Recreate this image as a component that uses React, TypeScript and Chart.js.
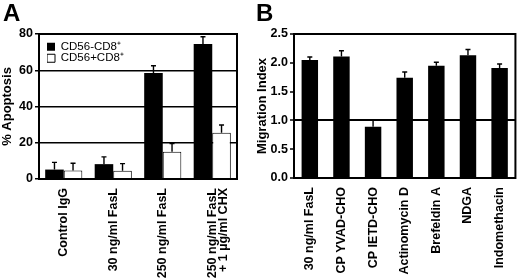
import React, { useEffect, useRef } from 'react';
import { Chart, registerables } from 'chart.js';

Chart.register(...registerables);

// ---- Panel A data ----
const categoriesA: (string | string[])[] = [
  'Control IgG',
  '30 ng/ml FasL',
  '250 ng/ml FasL',
  ['250 ng/ml FasL', '+ 1 µg/ml CHX'],
];
const seriesNegLabel = 'CD56-CD8⁺';
const seriesPosLabel = 'CD56+CD8⁺';
const apoptosisNeg = [5.2, 8.2, 58.5, 74.5];
const apoptosisNegErr = [4, 4, 4, 4];
const apoptosisPos = [4.7, 4.5, 15, 25.5];
const apoptosisPosErr = [4, 4, 4.5, 4.3];
const yTicksA = ['0', '20', '40', '60', '80'];

// ---- Panel B data ----
const categoriesB = [
  '30 ng/ml FasL',
  'CP YVAD-CHO',
  'CP IETD-CHO',
  'Actinomycin D',
  'Brefeldin A',
  'NDGA',
  'Indomethacin',
];
const migrationIndex = [2.05, 2.11, 0.89, 1.74, 1.95, 2.13, 1.91];
const migrationErr = [0.05, 0.1, 0.12, 0.1, 0.06, 0.1, 0.07];
const yTicksB = ['0.0', '0.5', '1.0', '1.5', '2.0', '2.5'];

const FAMILY = '"Liberation Sans", Arial, Helvetica, sans-serif';

const errorBarPlugin = {
  id: 'errorBars',
  afterDatasetsDraw(chart: any) {
    const { ctx } = chart;
    const yScale = chart.scales.y;
    chart.data.datasets.forEach((ds: any, i: number) => {
      const errs: number[] | undefined = ds.errors;
      if (!errs) return;
      const meta = chart.getDatasetMeta(i);
      meta.data.forEach((el: any, j: number) => {
        const v = ds.data[j] as number;
        const top = yScale.getPixelForValue(v + errs[j]);
        ctx.save();
        ctx.strokeStyle = '#000';
        ctx.lineWidth = 1.4;
        ctx.beginPath();
        ctx.moveTo(el.x, el.y);
        ctx.lineTo(el.x, top);
        ctx.moveTo(el.x - 2.5, top);
        ctx.lineTo(el.x + 2.5, top);
        ctx.stroke();
        ctx.restore();
      });
    });
  },
};

const framePlugin = {
  id: 'frame',
  afterDraw(chart: any) {
    const { ctx, chartArea: a } = chart;
    ctx.save();
    ctx.strokeStyle = '#000';
    ctx.lineWidth = 2;
    ctx.strokeRect(a.left, a.top, a.right - a.left, a.bottom - a.top);
    ctx.restore();
  },
};

const legendShiftPlugin = {
  id: 'legendShift',
  afterLayout(chart: any) {
    const lg = chart.legend;
    const a = chart.chartArea;
    if (lg && lg.options && lg.options.display !== false) {
      const w = lg.width;
      const h = lg.height;
      lg.left = a.left + 8;
      lg.top = a.top + 7;
      lg.right = lg.left + w;
      lg.bottom = lg.top + h;
    }
  },
};

function makeConfigA(): any {
  return {
    type: 'bar',
    data: {
      labels: categoriesA,
      datasets: [
        {
          label: seriesNegLabel,
          data: apoptosisNeg,
          errors: apoptosisNegErr,
          backgroundColor: '#000',
          borderColor: '#000',
          borderWidth: 0,
        },
        {
          label: seriesPosLabel,
          data: apoptosisPos,
          errors: apoptosisPosErr,
          backgroundColor: '#fff',
          borderColor: '#000',
          borderWidth: 1,
        },
      ],
    },
    options: {
      animation: false,
      responsive: false,
      devicePixelRatio: 1,
      layout: { padding: { top: 34, right: 13, left: 0, bottom: 0 } },
      datasets: { bar: { categoryPercentage: 0.75, barPercentage: 1 } },
      plugins: {
        legend: {
          position: 'chartArea',
          align: 'start',
          labels: {
            boxWidth: 8,
            boxHeight: 8,
            padding: 0,
            color: '#000',
            font: { size: 11.5, family: FAMILY },
          },
        },
        tooltip: { enabled: false },
      },
      scales: {
        x: {
          grid: { display: false, drawTicks: false },
          border: { display: false },
          ticks: {
            autoSkip: false,
            maxRotation: 90,
            minRotation: 90,
            padding: 9,
            color: '#000',
            font: { size: 12.5, weight: 'bold', family: FAMILY, lineHeight: 0.9 },
          },
          afterFit: (s: any) => {
            s.height = 100;
          },
        },
        y: {
          min: 0,
          max: 80,
          ticks: {
            stepSize: 20,
            padding: 2,
            color: '#000',
            font: { size: 12.5, weight: 'bold', family: FAMILY },
            callback: (_v: any, i: number) => yTicksA[i],
          },
          grid: { color: '#000', lineWidth: 1.5, tickLength: 4, tickColor: '#000', tickWidth: 1.5 },
          border: { display: false },
          title: {
            display: true,
            text: '% Apoptosis',
            color: '#000',
            padding: 0,
            font: { size: 13, weight: 'bold', family: FAMILY },
          },
          afterFit: (s: any) => {
            s.width = 39;
          },
        },
      },
    },
    plugins: [errorBarPlugin, framePlugin, legendShiftPlugin],
  };
}

function makeConfigB(): any {
  return {
    type: 'bar',
    data: {
      labels: categoriesB,
      datasets: [
        {
          label: 'Migration Index',
          data: migrationIndex,
          errors: migrationErr,
          backgroundColor: '#000',
          borderColor: '#000',
          borderWidth: 0,
        },
      ],
    },
    options: {
      animation: false,
      responsive: false,
      devicePixelRatio: 1,
      layout: { padding: { top: 34, right: 2, left: 0, bottom: 0 } },
      datasets: { bar: { categoryPercentage: 1, barPercentage: 0.52 } },
      plugins: {
        legend: { display: false },
        tooltip: { enabled: false },
      },
      scales: {
        x: {
          grid: { display: false, drawTicks: false },
          border: { display: false },
          ticks: {
            autoSkip: false,
            maxRotation: 90,
            minRotation: 90,
            padding: 9,
            color: '#000',
            font: { size: 12.5, weight: 'bold', family: FAMILY, lineHeight: 0.9 },
          },
          afterFit: (s: any) => {
            s.height = 101;
          },
        },
        y: {
          min: 0,
          max: 2.5,
          ticks: {
            stepSize: 0.5,
            padding: 2,
            color: '#000',
            font: { size: 12.5, weight: 'bold', family: FAMILY },
            callback: (_v: any, i: number) => yTicksB[i],
          },
          grid: {
            color: (c: any) => (c.tick && c.tick.value === 1 ? '#000' : 'rgba(0,0,0,0)'),
            lineWidth: 2,
            tickLength: 4,
            tickColor: '#000',
            tickWidth: 1.5,
          },
          border: { display: false },
          title: {
            display: true,
            text: 'Migration Index',
            color: '#000',
            padding: { top: 5, bottom: 0 },
            font: { size: 13, weight: 'bold', family: FAMILY },
          },
          afterFit: (s: any) => {
            s.width = 44;
          },
        },
      },
    },
    plugins: [errorBarPlugin, framePlugin],
  };
}

export default function App() {
  const refA = useRef<HTMLCanvasElement | null>(null);
  const refB = useRef<HTMLCanvasElement | null>(null);

  useEffect(() => {
    Chart.defaults.font.family = FAMILY;
    Chart.defaults.color = '#000';
    const a = new Chart(refA.current as HTMLCanvasElement, makeConfigA());
    const b = new Chart(refB.current as HTMLCanvasElement, makeConfigB());
    return () => {
      a.destroy();
      b.destroy();
    };
  }, []);

  const letter: React.CSSProperties = {
    position: 'absolute',
    top: 1,
    fontFamily: FAMILY,
    fontWeight: 'bold',
    fontSize: 24,
    lineHeight: '24px',
    color: '#000',
  };

  return (
    <div
      style={{
        position: 'absolute',
        left: 0,
        top: 0,
        width: 520,
        height: 279,
        background: '#fff',
        overflow: 'hidden',
      }}
    >
      <canvas
        ref={refA}
        width={250}
        height={279}
        style={{ position: 'absolute', left: 0, top: 0, width: 250, height: 279 }}
      />
      <canvas
        ref={refB}
        width={270}
        height={279}
        style={{ position: 'absolute', left: 250, top: 0, width: 270, height: 279 }}
      />
      <div style={{ ...letter, left: 3 }}>A</div>
      <div style={{ ...letter, left: 256 }}>B</div>
    </div>
  );
}
